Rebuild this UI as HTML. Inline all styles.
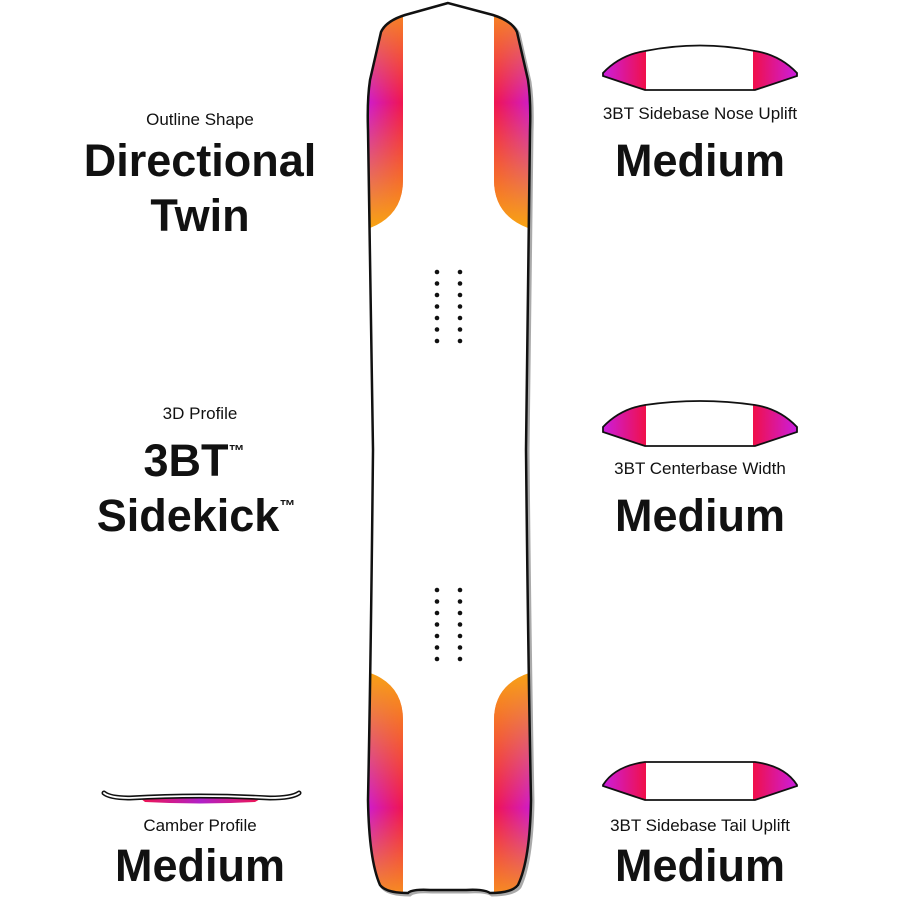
<!DOCTYPE html>
<html><head><meta charset="utf-8"><style>
html,body{margin:0;padding:0;background:#fff;}
svg{display:block;}
text{font-family:"Liberation Sans",Arial,sans-serif;fill:#111;text-anchor:middle;}
.s{font-size:17px;}
.b{font-size:45px;font-weight:bold;}
</style></head><body>
<svg width="900" height="900" viewBox="0 0 900 900" xmlns="http://www.w3.org/2000/svg">
<defs>
<linearGradient id="pt" x1="0" y1="0" x2="0" y2="1">
<stop offset="0" stop-color="#f7941d"/><stop offset="0.45" stop-color="#c81ee8"/><stop offset="1" stop-color="#f9a410"/></linearGradient>
<linearGradient id="rt" x1="0" y1="0" x2="0" y2="1">
<stop offset="0" stop-color="#f7941d"/><stop offset="0.45" stop-color="#f0154f"/><stop offset="1" stop-color="#f9a410"/></linearGradient>
<linearGradient id="pb" x1="0" y1="0" x2="0" y2="1">
<stop offset="0" stop-color="#f9a410"/><stop offset="0.6" stop-color="#c81ee8"/><stop offset="1" stop-color="#f7941d"/></linearGradient>
<linearGradient id="rb" x1="0" y1="0" x2="0" y2="1">
<stop offset="0" stop-color="#f9a410"/><stop offset="0.6" stop-color="#f0154f"/><stop offset="1" stop-color="#f7941d"/></linearGradient>
<linearGradient id="mhl" x1="0" y1="0" x2="1" y2="0"><stop offset="0" stop-color="#000"/><stop offset="1" stop-color="#fff"/></linearGradient>
<linearGradient id="mhr" x1="1" y1="0" x2="0" y2="0"><stop offset="0" stop-color="#000"/><stop offset="1" stop-color="#fff"/></linearGradient>
<mask id="ml" maskContentUnits="objectBoundingBox"><rect width="1" height="1" fill="url(#mhl)"/></mask>
<mask id="mr" maskContentUnits="objectBoundingBox"><rect width="1" height="1" fill="url(#mhr)"/></mask>
<linearGradient id="il" x1="0" y1="0" x2="1" y2="0"><stop offset="0" stop-color="#c81ee8"/><stop offset="1" stop-color="#f0104a"/></linearGradient>
<linearGradient id="ir" x1="1" y1="0" x2="0" y2="0"><stop offset="0" stop-color="#c81ee8"/><stop offset="1" stop-color="#f0104a"/></linearGradient>
<linearGradient id="cf" x1="0" y1="0" x2="1" y2="0"><stop offset="0" stop-color="#f0154f"/><stop offset="0.5" stop-color="#b020c8"/><stop offset="1" stop-color="#f0154f"/></linearGradient>
<clipPath id="board"><path id="bp" d="M448,3 L405,15 Q386,21 381,32 L370,80 Q367,100 368,130 Q371,300 373,450 Q371,650 368,800 Q369,860 380,885 Q386,893 408,893 Q412,889 430,890 L466,890 Q484,889 490,893 Q512,893 518,885 Q530,860 531,800 Q528,650 526,450 Q528,300 530,130 Q531,100 528,80 L517,32 Q512,21 493,15 Z"/></clipPath>
<clipPath id="ic1"><path d="M603,73 Q620,55 645,51 Q700,40 755,51 Q780,55 797,73 L797,76 L755,90 L645,90 L603,76 Z"/></clipPath>
<clipPath id="ic2"><path d="M603,427 Q620,409 645,405 Q700,397 755,405 Q780,409 797,427 L797,432 L755,446 L645,446 L603,432 Z"/></clipPath>
<clipPath id="ic3"><path d="M645,762 L755,762 Q785,766 797,785 L797,786 L755,800 L645,800 L603,786 L603,785 Q615,766 645,762 Z"/></clipPath>
</defs>
<use href="#bp" fill="none" stroke="#555" stroke-width="3" transform="translate(2,2)" opacity="0.5"/>
<g clip-path="url(#board)">
<rect x="0" y="0" width="900" height="900" fill="#fff"/>
<path d="M360,0 H403 V180 Q403,215 370,228 H360 Z" fill="url(#pt)"/>
<path d="M360,0 H403 V180 Q403,215 370,228 H360 Z" fill="url(#rt)" mask="url(#ml)"/>
<path d="M540,0 H494 V180 Q494,215 528,228 H540 Z" fill="url(#pt)"/>
<path d="M540,0 H494 V180 Q494,215 528,228 H540 Z" fill="url(#rt)" mask="url(#mr)"/>
<path d="M360,670 Q403,680 403,720 V900 H360 Z" fill="url(#pb)"/>
<path d="M360,670 Q403,680 403,720 V900 H360 Z" fill="url(#rb)" mask="url(#ml)"/>
<path d="M540,670 Q494,680 494,720 V900 H540 Z" fill="url(#pb)"/>
<path d="M540,670 Q494,680 494,720 V900 H540 Z" fill="url(#rb)" mask="url(#mr)"/>
</g>
<use href="#bp" fill="none" stroke="#111" stroke-width="2.5"/>
<g fill="#111">
<circle cx="437" cy="272" r="2.3"/><circle cx="437" cy="283.5" r="2.3"/><circle cx="437" cy="295" r="2.3"/><circle cx="437" cy="306.5" r="2.3"/><circle cx="437" cy="318" r="2.3"/><circle cx="437" cy="329.5" r="2.3"/><circle cx="437" cy="341" r="2.3"/>
<circle cx="460" cy="272" r="2.3"/><circle cx="460" cy="283.5" r="2.3"/><circle cx="460" cy="295" r="2.3"/><circle cx="460" cy="306.5" r="2.3"/><circle cx="460" cy="318" r="2.3"/><circle cx="460" cy="329.5" r="2.3"/><circle cx="460" cy="341" r="2.3"/>
<circle cx="437" cy="590" r="2.3"/><circle cx="437" cy="601.5" r="2.3"/><circle cx="437" cy="613" r="2.3"/><circle cx="437" cy="624.5" r="2.3"/><circle cx="437" cy="636" r="2.3"/><circle cx="437" cy="647.5" r="2.3"/><circle cx="437" cy="659" r="2.3"/>
<circle cx="460" cy="590" r="2.3"/><circle cx="460" cy="601.5" r="2.3"/><circle cx="460" cy="613" r="2.3"/><circle cx="460" cy="624.5" r="2.3"/><circle cx="460" cy="636" r="2.3"/><circle cx="460" cy="647.5" r="2.3"/><circle cx="460" cy="659" r="2.3"/>
</g>
<g clip-path="url(#ic1)"><rect x="600" y="40" width="200" height="55" fill="#fff"/><rect x="600" y="40" width="46" height="55" fill="url(#il)"/><rect x="753" y="40" width="47" height="55" fill="url(#ir)"/></g>
<path d="M603,73 Q620,55 645,51 Q700,40 755,51 Q780,55 797,73 L797,76 L755,90 L645,90 L603,76 Z" fill="none" stroke="#111" stroke-width="1.8"/>
<g clip-path="url(#ic2)"><rect x="600" y="395" width="200" height="55" fill="#fff"/><rect x="600" y="395" width="46" height="55" fill="url(#il)"/><rect x="753" y="395" width="47" height="55" fill="url(#ir)"/></g>
<path d="M603,427 Q620,409 645,405 Q700,397 755,405 Q780,409 797,427 L797,432 L755,446 L645,446 L603,432 Z" fill="none" stroke="#111" stroke-width="1.8"/>
<g clip-path="url(#ic3)"><rect x="600" y="755" width="200" height="50" fill="#fff"/><rect x="600" y="755" width="46" height="50" fill="url(#il)"/><rect x="753" y="755" width="47" height="50" fill="url(#ir)"/></g>
<path d="M645,762 L755,762 Q785,766 797,785 L797,786 L755,800 L645,800 L603,786 L603,785 Q615,766 645,762 Z" fill="none" stroke="#111" stroke-width="1.8"/>
<path d="M140,798 Q200,794 262,798 L255,802 Q200,805 145,802 Z" fill="url(#cf)"/>
<path d="M104,793 Q110,798 130,798 Q200,794 270,798 Q292,798 299,793" fill="none" stroke="#111" stroke-width="5" stroke-linecap="round"/>
<path d="M104,793 Q110,798 130,798 Q200,794 270,798 Q292,798 299,793" fill="none" stroke="#fff" stroke-width="1.8" stroke-linecap="round"/>
<text class="s" x="200" y="125">Outline Shape</text>
<text class="b" x="200" y="176">Directional</text>
<text class="b" x="200" y="231">Twin</text>
<text class="s" x="200" y="419">3D Profile</text>
<text class="b" x="194" y="476">3BT<tspan font-size="16" dy="-20">™</tspan></text>
<text class="b" x="196" y="531">Sidekick<tspan font-size="16" dy="-20">™</tspan></text>
<text class="s" x="200" y="831">Camber Profile</text>
<text class="b" x="200" y="881">Medium</text>
<text class="s" x="700" y="119">3BT Sidebase Nose Uplift</text>
<text class="b" x="700" y="176">Medium</text>
<text class="s" x="700" y="474">3BT Centerbase Width</text>
<text class="b" x="700" y="531">Medium</text>
<text class="s" x="700" y="831">3BT Sidebase Tail Uplift</text>
<text class="b" x="700" y="881">Medium</text>
</svg>
</body></html>
